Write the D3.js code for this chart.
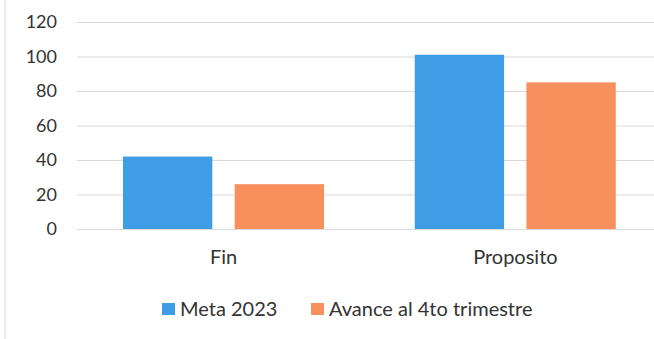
<!DOCTYPE html>
<html>
<head>
<meta charset="utf-8">
<script src="https://cdn.jsdelivr.net/npm/d3@7"></script>
<style>
  html, body { margin: 0; padding: 0; background: #fff; }
  svg { display: block; }
  text { font-family: "Lato", "Open Sans", sans-serif; fill: #333; }
</style>
</head>
<body>
<svg id="chart" width="654" height="339"></svg>
<script>
const categories = ["Fin", "Proposito"];
const seriesNames = ["Meta 2023", "Avance al 4to trimestre"];
const meta2023 = [42, 101];
const avance4to = [26, 85];
const yTicks = [0, 20, 40, 60, 80, 100, 120];
const colors = ["#3f9de6", "#f8905e"];

const svg = d3.select("#chart");
const W = 654, H = 339;

// frame left border
svg.append("line").attr("x1", 5).attr("x2", 5).attr("y1", 0).attr("y2", H)
  .attr("stroke", "#d8d8d8").attr("stroke-width", 1);

const x0 = d3.scaleBand().domain(categories).range([77.75, 661.25]).padding(0);
const x1 = d3.scaleBand().domain(seriesNames).range([45.25, 246.25]).paddingInner(0.2);
const y = d3.scaleLinear().domain([0, 120]).range([229, 22]);

// gridlines
const yAxis = d3.axisLeft(y).tickValues(yTicks).tickSize(-(W - 77)).tickPadding(20);
const gy = svg.append("g").attr("transform", "translate(77,0)").call(yAxis);
gy.select(".domain").remove();
gy.selectAll(".tick line").attr("stroke", "#d9d9d9").attr("stroke-width", 1);
gy.selectAll(".tick text").attr("font-size", 18).style("font-family", "Lato, 'Open Sans', sans-serif")
  .attr("fill", "#333").attr("x", -20);

const data = categories.map((c, i) => ({ cat: c, values: [meta2023[i], avance4to[i]] }));

const groups = svg.append("g").selectAll("g").data(data).join("g")
  .attr("transform", d => `translate(${x0(d.cat)},0)`);
groups.selectAll("rect").data(d => d.values.map((v, j) => ({ s: seriesNames[j], v, j })))
  .join("rect")
  .attr("x", d => x1(d.s))
  .attr("width", x1.bandwidth())
  .attr("y", d => y(d.v))
  .attr("height", d => y(0) - y(d.v))
  .attr("fill", d => colors[d.j]);

// category labels
const xAxis = d3.axisBottom(x0).tickSize(0).tickPadding(21);
const gx = svg.append("g").attr("transform", "translate(0,229)").call(xAxis);
gx.select(".domain").remove();
gx.selectAll(".tick text").attr("font-size", 20).style("font-family", "Lato, 'Open Sans', sans-serif").attr("fill", "#333");

// legend
const legendX = [162, 311];
const leg = svg.append("g").selectAll("g").data(seriesNames).join("g")
  .attr("transform", (d, i) => `translate(${legendX[i]},303)`);
leg.append("rect").attr("width", 13).attr("height", 12).attr("fill", (d, i) => colors[i]);
leg.append("text").attr("x", 18).attr("y", 6).attr("dy", "0.35em")
  .attr("font-size", 20).text(d => d);
</script>
</body>
</html>
